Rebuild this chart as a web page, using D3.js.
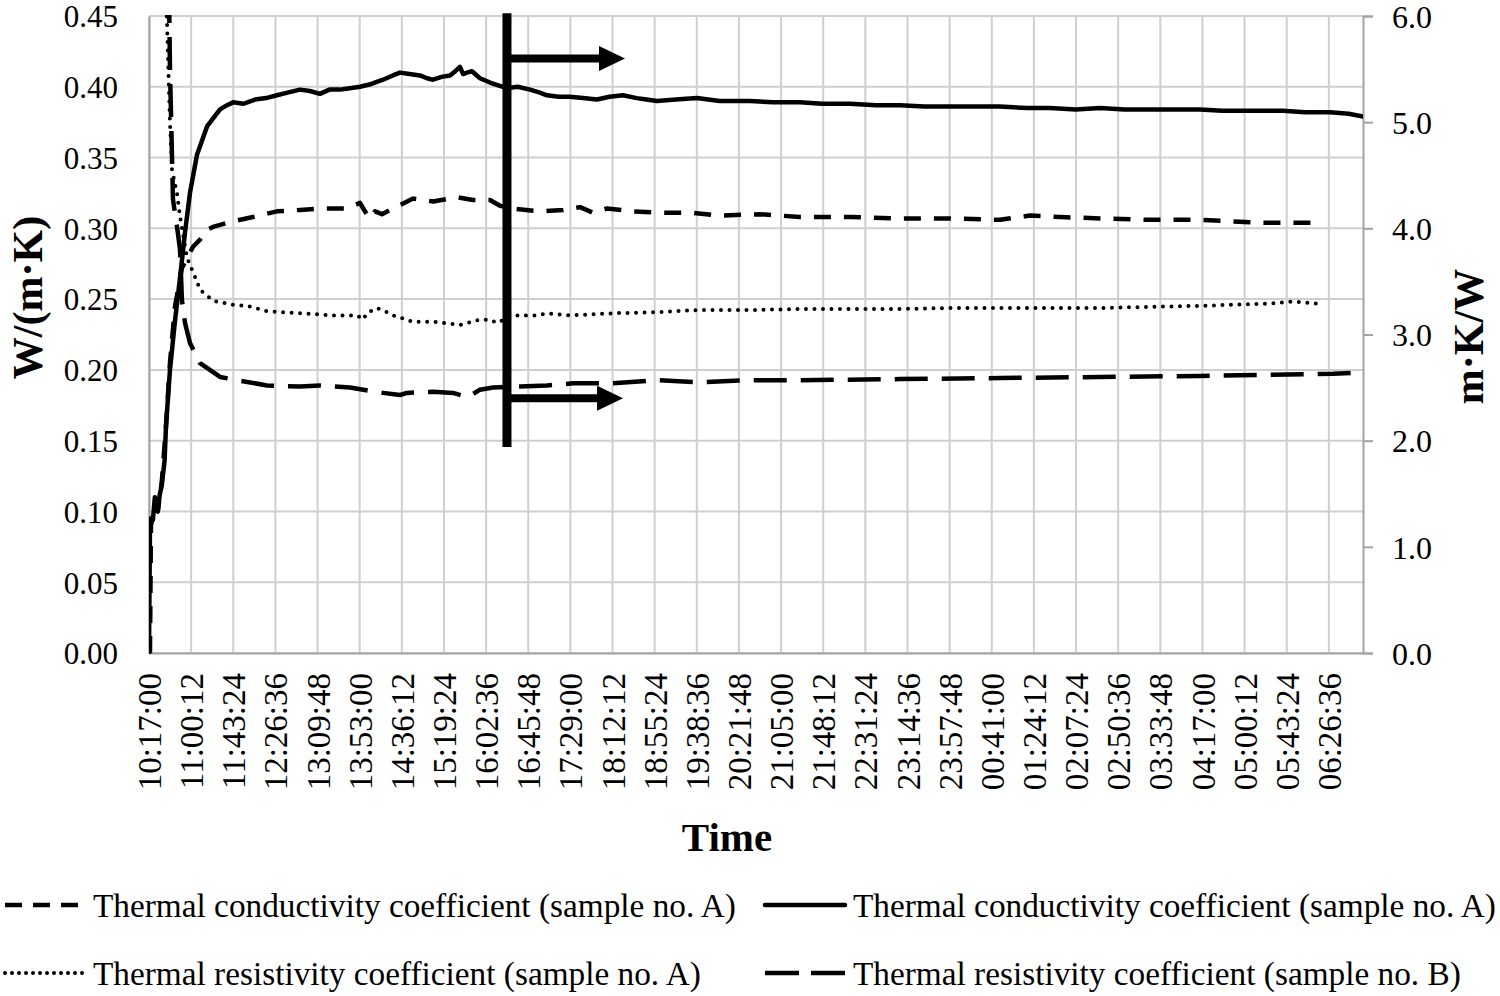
<!DOCTYPE html>
<html>
<head>
<meta charset="utf-8">
<script src="https://cdn.jsdelivr.net/npm/d3@7"></script>
<style>
  html, body { margin: 0; padding: 0; background: #fff; }
  svg { display: block; }
  text { font-family: "Liberation Serif", "Times New Roman", serif; fill: #000; }
</style>
</head>
<body>
<svg id="chart" width="1500" height="996"></svg>
<script>
// ---------------- DATA ----------------
// elapsed minutes since start time 10:17:00
const startTime = "10:17:00";
const tickStepMinutes = 43.2;
const xTickLabels = ["10:17:00","11:00:12","11:43:24","12:26:36","13:09:48","13:53:00","14:36:12","15:19:24",
  "16:02:36","16:45:48","17:29:00","18:12:12","18:55:24","19:38:36","20:21:48","21:05:00","21:48:12",
  "22:31:24","23:14:36","23:57:48","00:41:00","01:24:12","02:07:24","02:50:36","03:33:48","04:17:00",
  "05:00:12","05:43:24","06:26:36"];
const xEndMinutes = 1244.6;

const leftTicks = [0,0.05,0.10,0.15,0.20,0.25,0.30,0.35,0.40,0.45];
const rightTicks = [0,1,2,3,4,5,6];

// Thermal conductivity coefficient (solid line) [minutes, W/(m·K)]
const condSolid = [[0,0.00],[1,0.09],[2,0.095],[4,0.094],[6,0.110],[8,0.104],[9,0.100],[11,0.112],[13,0.118],
  [16,0.136],[17.4,0.16],[21.5,0.20],[26.7,0.235],[31.8,0.265],[36.9,0.297],[42,0.325],[49.2,0.352],[59.5,0.372],
  [72.8,0.384],[80,0.387],[86.1,0.389],[97,0.388],[108.7,0.391],[120,0.392],[131.2,0.394],[143,0.396],[154.8,0.398],
  [165,0.397],[175.3,0.395],[185,0.398],[195.8,0.398],[206,0.399],[216.3,0.400],[228,0.402],[239.9,0.405],[250,0.408],
  [257.3,0.410],[267,0.409],[277.8,0.408],[285,0.406],[291.2,0.405],[300,0.407],[308.6,0.408],[314,0.411],[318.8,0.414],
  [322,0.409],[326,0.410],[331.1,0.411],[339.3,0.406],[349.6,0.403],[358,0.401],[367,0.399],[378,0.400],[390.6,0.398],
  [400,0.396],[408,0.394],[420,0.393],[431.6,0.393],[445,0.392],[459.3,0.391],[472,0.393],[485.9,0.394],[500,0.392],
  [510,0.391],[520.8,0.390],[540,0.391],[561.8,0.392],[585,0.390],[616.1,0.390],[640,0.389],[667.4,0.389],[690,0.388],
  [718.7,0.388],[745,0.387],[769.9,0.387],[795,0.386],[821.2,0.386],[845,0.386],[872.4,0.386],[900,0.385],[923.7,0.385],
  [950,0.384],[975,0.385],[1000,0.384],[1026.2,0.384],[1050,0.384],[1077.5,0.384],[1100,0.383],[1128.7,0.383],
  [1145,0.383],[1162.6,0.383],[1185,0.382],[1210.8,0.382],[1230,0.381],[1244.6,0.379]];

// Thermal conductivity coefficient, sample A (short dashes) [minutes, W/(m·K)]
const condDashed = [[1,0.0],[2,0.09],[6,0.105],[9,0.10],[13,0.12],[17.4,0.16],[21.5,0.205],[26.7,0.245],[33.8,0.272],
  [45.1,0.287],[52.3,0.292],[59.5,0.299],[65.6,0.301],[86.1,0.305],[106.6,0.308],[131.2,0.312],[154.8,0.313],
  [175.3,0.314],[203,0.314],[216.3,0.318],[221.4,0.312],[226.6,0.307],[231.7,0.312],[238.9,0.310],[250.1,0.314],
  [270.7,0.321],[291.2,0.319],[315.8,0.322],[332.2,0.320],[349.6,0.320],[359.8,0.316],[373.2,0.314],[400.9,0.312],
  [424.4,0.313],[441.9,0.315],[455.2,0.311],[469.5,0.314],[496.2,0.312],[527,0.311],[557.7,0.311],[585.4,0.309],
  [626.4,0.310],[667.4,0.308],[718.7,0.308],[769.9,0.307],[821.2,0.307],[872.4,0.306],[903.2,0.309],[934,0.308],
  [975,0.307],[1026.2,0.306],[1077.5,0.306],[1139,0.304],[1169.8,0.304],[1202.6,0.304]];

// Thermal resistivity coefficient, sample A (dotted) [minutes, m·K/W]
const resDotted = [[11.3,12],[16.4,7.0],[17.4,6.3],[19.5,5.6],[21.5,5.0],[23.6,4.55],[28.7,4.33],[31.8,4.11],[39,3.72],
  [49.2,3.50],[52.3,3.42],[65.6,3.32],[69.7,3.31],[86.1,3.28],[100.5,3.27],[121,3.22],[154.8,3.20],[188.6,3.18],
  [213.2,3.18],[219.4,3.14],[223.5,3.20],[233.7,3.25],[241.9,3.22],[250.1,3.18],[270.7,3.12],[291.2,3.12],[318.8,3.09],
  [339.3,3.14],[349.6,3.14],[356.8,3.11],[373.2,3.18],[397.8,3.18],[408,3.20],[431.6,3.18],[475.7,3.20],[520.8,3.21],
  [561.8,3.23],[616.1,3.23],[667.4,3.24],[718.7,3.24],[769.9,3.24],[821.2,3.25],[872.4,3.25],[923.7,3.25],[975,3.25],
  [1026.2,3.26],[1077.5,3.27],[1146.2,3.29],[1172.8,3.31],[1200.5,3.29]];

// Thermal resistivity coefficient, sample B (long dashes) [minutes, m·K/W]
const resLongDash = [[13,12],[19.5,7.0],[21.5,5.5],[24.6,4.27],[29.7,3.95],[31.8,3.80],[33.8,3.32],[36.9,3.11],[42,2.92],
  [52.3,2.73],[72.8,2.60],[90.2,2.57],[121,2.52],[154.8,2.51],[175.3,2.52],[206.1,2.50],[239.9,2.45],[257.3,2.43],
  [264.5,2.45],[291.2,2.46],[311.7,2.45],[327,2.41],[339.3,2.48],[352.7,2.50],[380.3,2.51],[408,2.52],[434.7,2.54],
  [475.7,2.54],[520.8,2.57],[561.8,2.55],[616.1,2.57],[667.4,2.57],[769.9,2.58],[872.4,2.59],[975,2.60],[1077.5,2.61],
  [1139,2.62],[1213.8,2.63],[1241.5,2.64]];

const legendLabels = [
  "Thermal conductivity coefficient (sample no. A)",
  "Thermal conductivity coefficient (sample no. A)",
  "Thermal resistivity coefficient (sample no. A)",
  "Thermal resistivity coefficient (sample no. B)"
];

// annotation: divider bar and arrows (minutes / W/(m·K))
const dividerMinute = 367;
const dividerRange = [0.1455, 0.452];
const arrowLevels = [0.420, 0.180];
const arrowTipMinutes = [488, 486];

// ---------------- CHART ----------------
const svg = d3.select("#chart");
const W = 1500, H = 996;
const m = {left: 149, right: 137, top: 16, bottom: 343};
const pw = W - m.left - m.right, ph = H - m.top - m.bottom;

const x = d3.scaleLinear().domain([0, xEndMinutes]).range([m.left, m.left + pw]);
const yL = d3.scaleLinear().domain([0, 0.45]).range([m.top + ph, m.top]);
const yR = d3.scaleLinear().domain([0, 6]).range([m.top + ph, m.top]);
const xTickVals = xTickLabels.map((d, i) => i * tickStepMinutes);

const gridColor = "#cfcfcf", axisColor = "#a3a3a3";

// gridlines
const g = svg.append("g");
g.selectAll("line.hg").data(leftTicks).join("line")
  .attr("x1", m.left).attr("x2", m.left + pw)
  .attr("y1", d => yL(d)).attr("y2", d => yL(d))
  .attr("stroke", gridColor).attr("stroke-width", 2);
g.selectAll("line.vg").data(xTickVals).join("line")
  .attr("x1", d => x(d)).attr("x2", d => x(d))
  .attr("y1", m.top).attr("y2", m.top + ph)
  .attr("stroke", gridColor).attr("stroke-width", 2);

// axes
const axL = d3.axisLeft(yL).tickValues(leftTicks).tickFormat(d3.format(".2f")).tickSize(0).tickPadding(31);
const gL = svg.append("g").attr("transform", `translate(${m.left},0)`).call(axL);
gL.select(".domain").attr("stroke", axisColor).attr("stroke-width", 2);
gL.selectAll("text").attr("font-size", 31).attr("dy", "0.35em");

const axR = d3.axisRight(yR).tickValues(rightTicks).tickFormat(d3.format(".1f")).tickSize(10).tickPadding(19);
const gR = svg.append("g").attr("transform", `translate(${m.left + pw},0)`).call(axR);
gR.select(".domain").attr("stroke", axisColor).attr("stroke-width", 2);
gR.selectAll(".tick line").attr("stroke", axisColor).attr("stroke-width", 2);
gR.selectAll("text").attr("font-size", 32).attr("dy", "0.35em");

const axB = d3.axisBottom(x).tickValues(xTickVals).tickFormat((d, i) => xTickLabels[i]).tickSize(0).tickPadding(0);
const gB = svg.append("g").attr("transform", `translate(0,${m.top + ph})`).call(axB);
gB.select(".domain").attr("stroke", axisColor).attr("stroke-width", 2);
gB.selectAll("text").attr("font-size", 33)
  .attr("transform", "rotate(-90)").attr("text-anchor", "end")
  .attr("x", -20).attr("y", 0).attr("dy", "0.35em");

// axis titles
svg.append("text").attr("transform", `translate(27,${(m.top + m.top + ph) / 2 - 37}) rotate(-90)`)
  .attr("text-anchor", "middle").attr("dy", "0.35em")
  .attr("font-size", 42).attr("font-weight", "bold").text("W/(m·K)");
svg.append("text").attr("transform", `translate(1468,${(m.top + m.top + ph) / 2 + 2}) rotate(-90)`)
  .attr("text-anchor", "middle").attr("dy", "0.35em")
  .attr("font-size", 42).attr("font-weight", "bold").text("m·K/W");
svg.append("text").attr("x", 727).attr("y", 837).attr("text-anchor", "middle").attr("dy", "0.35em")
  .attr("font-size", 41).attr("font-weight", "bold").text("Time");

// clip
svg.append("clipPath").attr("id", "plotclip").append("rect")
  .attr("x", m.left).attr("y", m.top - 1).attr("width", pw).attr("height", ph + 2);

const lineL = d3.line().x(d => x(d[0])).y(d => yL(d[1])).curve(d3.curveLinear);
const lineR = d3.line().x(d => x(d[0])).y(d => yR(d[1])).curve(d3.curveLinear);

const styles = {
  solid: {dash: null, legendDash: null, cap: "round", w: 4.5},
  dashed: {dash: "17,13", legendDash: "17,11", cap: "butt", w: 4.5},
  dotted: {dash: "0,8.5", legendDash: "0,7", cap: "round", w: 4},
  long: {dash: "33,14", legendDash: "34,12", cap: "butt", w: 4.5}
};

const series = [
  {data: condDashed, line: lineL, st: styles.dashed},
  {data: resDotted, line: lineR, st: styles.dotted},
  {data: resLongDash, line: lineR, st: styles.long},
  {data: condSolid, line: lineL, st: styles.solid}
];
const sg = svg.append("g").attr("clip-path", "url(#plotclip)");
series.forEach(s => {
  sg.append("path").datum(s.data).attr("d", s.line)
    .attr("fill", "none").attr("stroke", "#000").attr("stroke-width", s.st.w)
    .attr("stroke-linejoin", "round").attr("stroke-linecap", s.st.cap)
    .attr("stroke-dasharray", s.st.dash);
});

// annotation
const ann = svg.append("g");
const bx = x(dividerMinute);
ann.append("line").attr("x1", bx).attr("x2", bx)
  .attr("y1", yL(dividerRange[0])).attr("y2", yL(dividerRange[1]))
  .attr("stroke", "#000").attr("stroke-width", 9);
arrowLevels.forEach((lv, i) => {
  const ay = yL(lv), tip = x(arrowTipMinutes[i]), x0 = bx + 4;
  const headLen = 26, headHalf = 12.5, shaftHalf = 4;
  const pts = [[x0, ay - shaftHalf], [tip - headLen, ay - shaftHalf], [tip - headLen, ay - headHalf], [tip, ay],
    [tip - headLen, ay + headHalf], [tip - headLen, ay + shaftHalf], [x0, ay + shaftHalf]];
  ann.append("path").attr("d", d3.line()(pts) + "Z").attr("fill", "#000");
});

// legend
const legendItems = [
  {label: legendLabels[0], st: styles.dashed, x: 5, y: 905},
  {label: legendLabels[1], st: styles.solid, x: 765, y: 905},
  {label: legendLabels[2], st: styles.dotted, x: 5, y: 973},
  {label: legendLabels[3], st: styles.long, x: 765, y: 973}
];
const lg = svg.append("g");
legendItems.forEach(it => {
  lg.append("line").attr("x1", it.x).attr("x2", it.x + 80).attr("y1", it.y).attr("y2", it.y)
    .attr("stroke", "#000").attr("stroke-width", it.st.w)
    .attr("stroke-linecap", it.st.cap).attr("stroke-dasharray", it.st.legendDash);
  lg.append("text").attr("x", it.x + 88).attr("y", it.y).attr("dy", "0.35em")
    .attr("font-size", 33.3).text(it.label);
});
</script>
</body>
</html>
